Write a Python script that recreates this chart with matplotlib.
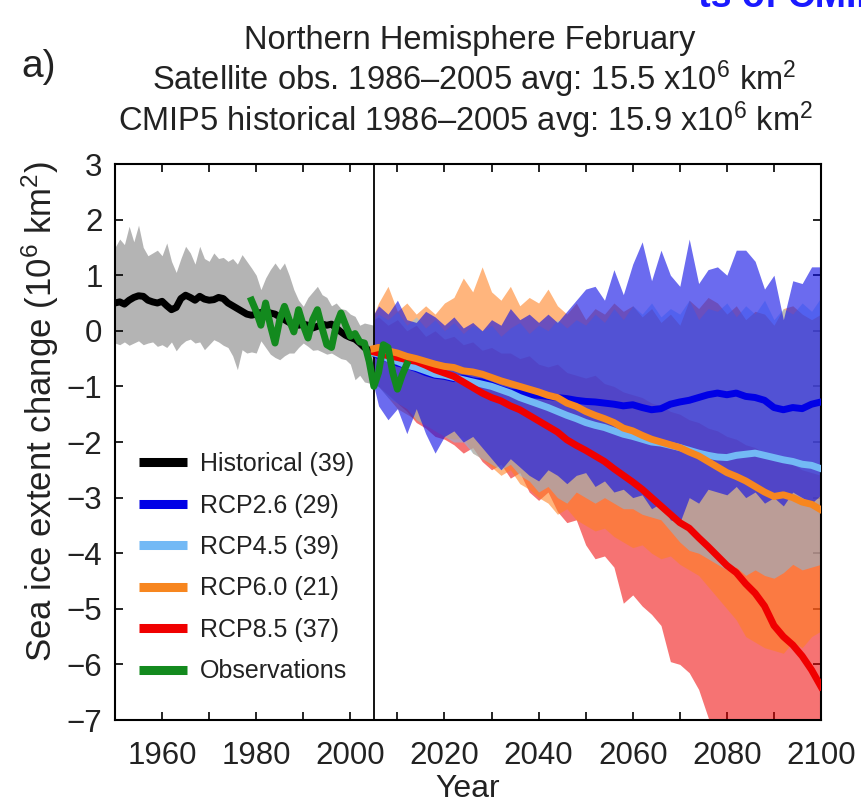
"""
Extensión del hielo marino, Hemisferio Norte, febrero: CMIP5 histórico + RCP y observaciones.
"""
import numpy as np
import matplotlib

matplotlib.use("Agg")
import matplotlib.pyplot as plt
from matplotlib.lines import Line2D
from matplotlib.patches import Rectangle

plt.rcParams["font.family"] = ["Liberation Sans", "DejaVu Sans"]
plt.rcParams["mathtext.fontset"] = "custom"
plt.rcParams["mathtext.rm"] = "Liberation Sans"
plt.rcParams["mathtext.it"] = "Liberation Sans:italic"
plt.rcParams["mathtext.bf"] = "Liberation Sans:bold"

# --- datos (10^6 km^2) ---
HIST_YEARS = np.arange(1950, 2006)
hist_mean = [0.50, 0.52, 0.48, 0.55, 0.60, 0.63, 0.62, 0.55, 0.52, 0.50,
             0.53, 0.45, 0.38, 0.42, 0.58, 0.64, 0.60, 0.55, 0.62, 0.57,
             0.55, 0.56, 0.60, 0.58, 0.50, 0.45, 0.40, 0.35, 0.30, 0.28,
             0.30, 0.33, 0.35, 0.32, 0.30, 0.25, 0.20, 0.15, 0.12, 0.10,
             0.12, 0.10, 0.05, 0.08, 0.12, 0.10, 0.12, 0.05, -0.02, -0.08,
             -0.12, -0.15, -0.22, -0.30, -0.35, -0.40]
hist_upper = [1.50, 1.65, 1.55, 1.88, 1.60, 1.90, 1.50, 1.35, 1.40, 1.45,
              1.35, 1.58, 1.25, 1.05, 1.30, 1.52, 1.40, 1.20, 1.52, 1.30,
              1.25, 1.40, 1.30, 1.32, 1.25, 1.30, 1.20, 1.37, 1.25, 1.13,
              1.00, 0.74, 0.95, 1.10, 1.22, 1.10, 1.22, 1.00, 0.74, 0.55,
              0.44, 0.60, 0.70, 0.80, 0.65, 0.60, 0.45, 0.50, 0.40, 0.38,
              0.30, 0.26, 0.10, 0.14, 0.12, 0.10]
hist_lower = [-0.22, -0.25, -0.20, -0.26, -0.22, -0.18, -0.25, -0.22, -0.20, -0.28,
              -0.25, -0.30, -0.20, -0.36, -0.25, -0.18, -0.15, -0.22, -0.20, -0.34,
              -0.25, -0.16, -0.20, -0.26, -0.30, -0.45, -0.70, -0.34, -0.40, -0.38,
              -0.40, -0.18, -0.30, -0.42, -0.48, -0.52, -0.45, -0.40, -0.40, -0.30,
              -0.22, -0.28, -0.35, -0.34, -0.38, -0.42, -0.40, -0.45, -0.50, -0.52,
              -0.60, -0.88, -0.80, -0.92, -0.94, -0.95]

OBS_YEARS = np.arange(1979, 2013)
obs = [0.55, 0.35, 0.10, 0.50, 0.10, -0.22, 0.20, 0.44, 0.20, -0.02,
       0.38, 0.10, -0.13, 0.20, 0.38, 0.05, -0.25, -0.30, 0.10, 0.32,
       0.10, -0.10, -0.05, -0.20, -0.22, -0.55, -1.00, -0.75, -0.25, -0.30,
       -0.75, -1.05, -0.80, -0.60]

PROJ_YEARS = np.r_[2005, np.arange(2006, 2101, 2)]
# 2005 | 2006-2014 | 2016-2024 | ... | 2086-2094 | 2096-2100
rcp26_mean = [-0.40,
              -0.45, -0.50, -0.58, -0.62, -0.68,
              -0.75, -0.80, -0.82, -0.86, -0.85,
              -0.90, -0.92, -0.98, -1.05, -1.10,
              -1.12, -1.15, -1.16, -1.18, -1.20,
              -1.22, -1.25, -1.27, -1.28, -1.30,
              -1.32, -1.35, -1.33, -1.38, -1.42,
              -1.40, -1.32, -1.28, -1.25, -1.20,
              -1.15, -1.12, -1.15, -1.12, -1.18,
              -1.20, -1.25, -1.38, -1.42, -1.38,
              -1.40, -1.32, -1.28]
rcp26_upper = [0.30,
               0.45, 0.30, 0.55, 0.20, 0.15,
               0.35, 0.25, 0.10, 0.25, 0.05,
               0.15, 0.00, 0.20, 0.10, 0.40,
               0.20, 0.30, 0.15, 0.30, 0.15,
               0.35, 0.55, 0.75, 0.80, 0.55,
               1.10, 0.65, 1.20, 1.60, 0.90,
               1.45, 1.00, 0.80, 1.65, 0.85,
               1.10, 1.15, 1.00, 1.45, 1.45,
               1.25, 0.75, 1.00, 0.20, 0.90,
               0.85, 1.15, 1.15]
rcp26_lower = [-1.00,
               -1.35, -1.60, -1.40, -1.85, -1.40,
               -1.85, -2.20, -1.90, -1.80, -2.00,
               -1.90, -2.10, -2.30, -2.50, -2.30,
               -2.45, -2.60, -2.70, -2.50, -2.60,
               -2.75, -2.60, -2.55, -2.80, -2.70,
               -2.90, -2.85, -3.00, -2.95, -3.20,
               -3.10, -3.40, -3.45, -3.00, -3.10,
               -2.85, -2.90, -2.95, -2.80, -3.00,
               -2.90, -3.10, -3.00, -3.15, -2.90,
               -3.00, -3.10, -2.95]

rcp45_mean = [-0.40,
              -0.42, -0.50, -0.55, -0.62, -0.66,
              -0.72, -0.78, -0.80, -0.84, -0.88,
              -0.92, -0.96, -1.00, -1.06, -1.12,
              -1.20, -1.26, -1.32, -1.38, -1.45,
              -1.52, -1.58, -1.65, -1.70, -1.74,
              -1.80, -1.86, -1.90, -1.95, -2.00,
              -2.02, -2.06, -2.10, -2.15, -2.20,
              -2.24, -2.27, -2.28, -2.24, -2.22,
              -2.20, -2.24, -2.28, -2.32, -2.35,
              -2.40, -2.42, -2.48]
rcp45_upper = [0.20,
               0.30, 0.20, 0.35, 0.10, 0.25,
               0.05, 0.20, 0.00, 0.15, -0.05,
               0.10, 0.00, 0.10, -0.10, 0.05,
               0.15, -0.05, 0.10, 0.00, 0.20,
               0.05, 0.20, 0.10, 0.30, 0.15,
               0.40, 0.20, 0.45, 0.30, 0.50,
               0.25, 0.40, 0.30, 0.55, 0.20,
               0.40, 0.35, 0.50, 0.25, 0.45,
               0.30, 0.55, 0.20, 0.40, 0.30,
               0.50, 0.35, 0.60]
rcp45_lower = [-1.00,
               -1.00, -1.20, -1.30, -1.40, -1.60,
               -1.70, -1.80, -1.90, -2.00, -2.00,
               -2.20, -2.30, -2.40, -2.50, -2.40,
               -2.60, -2.70, -2.90, -2.80, -3.00,
               -3.10, -2.90, -3.00, -3.10, -3.00,
               -3.10, -3.20, -3.20, -3.30, -3.35,
               -3.40, -3.60, -3.80, -3.95, -4.00,
               -4.10, -4.20, -4.30, -4.25, -4.40,
               -4.30, -4.40, -4.45, -4.35, -4.20,
               -4.30, -4.25, -4.20]

rcp60_mean = [-0.32,
              -0.30, -0.36, -0.40, -0.46, -0.50,
              -0.55, -0.60, -0.64, -0.66, -0.72,
              -0.74, -0.78, -0.84, -0.90, -0.95,
              -1.00, -1.05, -1.10, -1.16, -1.20,
              -1.30, -1.36, -1.45, -1.52, -1.58,
              -1.65, -1.75, -1.80, -1.88, -1.95,
              -2.00, -2.05, -2.10, -2.18, -2.25,
              -2.35, -2.45, -2.55, -2.62, -2.70,
              -2.80, -2.90, -2.98, -2.95, -3.00,
              -3.08, -3.12, -3.22]
rcp60_upper = [0.30,
               0.50, 0.80, 0.35, 0.50, 0.30,
               0.45, 0.30, 0.50, 0.60, 0.95,
               0.70, 1.15, 0.70, 0.55, 0.80,
               0.45, 0.60, 0.50, 0.75, 0.45,
               0.30, 0.50, 0.20, 0.40, 0.30,
               0.50, 0.35, 0.45, 0.25, 0.40,
               0.15, 0.30, 0.10, 0.55, 0.40,
               0.60, 0.50, 0.30, 0.45, 0.20,
               0.35, 0.30, 0.10, 0.40, 0.45,
               0.30, 0.20, 0.30]
rcp60_lower = [-0.90,
               -1.00, -1.20, -1.40, -1.50, -1.60,
               -1.70, -1.80, -1.90, -1.95, -1.90,
               -2.20, -2.30, -2.45, -2.60, -2.50,
               -2.75, -2.85, -3.00, -3.10, -3.30,
               -3.20, -3.40, -3.50, -3.60, -3.55,
               -3.70, -3.80, -3.90, -3.85, -4.00,
               -4.10, -4.05, -4.20, -4.30, -4.40,
               -4.60, -4.80, -5.00, -5.20, -5.50,
               -5.60, -5.70, -5.75, -5.80, -5.60,
               -5.70, -5.50, -5.40]

rcp85_mean = [-0.38,
              -0.40, -0.45, -0.48, -0.52, -0.55,
              -0.62, -0.70, -0.76, -0.82, -0.92,
              -1.02, -1.12, -1.20, -1.26, -1.35,
              -1.42, -1.52, -1.62, -1.72, -1.82,
              -1.96, -2.06, -2.15, -2.25, -2.35,
              -2.48, -2.60, -2.72, -2.85, -3.00,
              -3.15, -3.30, -3.45, -3.55, -3.72,
              -3.88, -4.05, -4.22, -4.35, -4.55,
              -4.72, -4.95, -5.30, -5.50, -5.65,
              -5.85, -6.10, -6.40]
rcp85_upper = [0.20,
               0.25, 0.10, 0.20, 0.00, 0.10,
               -0.10, 0.00, -0.15, -0.10, -0.25,
               -0.20, -0.35, -0.30, -0.40, -0.40,
               -0.50, -0.45, -0.60, -0.65, -0.60,
               -0.75, -0.80, -0.85, -0.80, -0.95,
               -1.00, -1.10, -1.15, -1.20, -1.30,
               -1.35, -1.45, -1.50, -1.60, -1.65,
               -1.75, -1.80, -1.90, -1.95, -2.05,
               -2.10, -2.20, -2.25, -2.35, -2.40,
               -2.50, -2.55, -2.60]
rcp85_lower = [-0.95,
               -1.00, -1.15, -1.30, -1.45, -1.65,
               -1.75, -1.90, -1.95, -2.05, -2.20,
               -2.10, -2.35, -2.50, -2.40, -2.65,
               -2.55, -2.90, -3.05, -2.90, -3.25,
               -3.45, -3.40, -3.85, -4.10, -4.05,
               -4.25, -4.90, -4.75, -4.95, -5.10,
               -5.30, -5.95, -6.00, -6.15, -6.45,
               -6.95, -7.50, -7.60, -7.70, -7.80,
               -7.80, -7.90, -8.00, -8.00, -8.10,
               -8.10, -8.20, -8.20]

LABELS = ["Historical (39)", "RCP2.6 (29)", "RCP4.5 (39)",
          "RCP6.0 (21)", "RCP8.5 (37)", "Observations"]

# colores
C_HIST = "black"
C_HIST_BAND = "#b4b4b4"
C26, C45, C60, C85, C_OBS = "#0000e6", "#73b9f5", "#f7861f", "#f00000", "#138a1e"
TXT = "#222222"

W, H = 861, 809
fig = plt.figure(figsize=(W / 100, H / 100), dpi=100)
ax = fig.add_axes([115 / W, 1 - 720 / H, (821 - 115) / W, (720 - 164) / H])

# bandas (rango de modelos)
ax.fill_between(HIST_YEARS, hist_lower, hist_upper, color=C_HIST_BAND, lw=0, zorder=1)
ax.fill_between(PROJ_YEARS, rcp85_lower, rcp85_upper, color="#f00000", alpha=0.55, lw=0, zorder=2)
ax.fill_between(PROJ_YEARS, rcp60_lower, rcp60_upper, color="#ff8020", alpha=0.58, lw=0, zorder=2)
ax.fill_between(PROJ_YEARS, rcp45_lower, rcp45_upper, color="#6ec8ff", alpha=0.45, lw=0, zorder=2)
ax.fill_between(PROJ_YEARS, rcp26_lower, rcp26_upper, color="#1010e6", alpha=0.62, lw=0, zorder=2)

ax.axvline(2005, color="black", lw=1.3, zorder=3)

# medias
lw = 5
ax.plot(HIST_YEARS, hist_mean, color=C_HIST, lw=lw, zorder=4)
ax.plot(PROJ_YEARS, rcp26_mean, color=C26, lw=lw, zorder=4)
ax.plot(PROJ_YEARS, rcp45_mean, color=C45, lw=lw, zorder=4)
ax.plot(PROJ_YEARS, rcp85_mean, color=C85, lw=lw, zorder=4)
ax.plot(PROJ_YEARS, rcp60_mean, color=C60, lw=lw, zorder=4)
ax.plot(OBS_YEARS, obs, color=C_OBS, lw=lw, zorder=5)

ax.set_xlim(1950, 2100)
ax.set_ylim(-7, 3)
ax.set_xticks(np.arange(1960, 2101, 20))
ax.set_xticks(np.arange(1960, 2100, 10), minor=True)
ax.set_yticks(np.arange(-7, 4, 1))
ax.tick_params(which="both", direction="in", top=True, right=True,
               length=6, width=1.2, labelsize=22.5, labelcolor=TXT)
ax.tick_params(axis="x", which="major", pad=15)
ax.tick_params(axis="y", which="major", pad=9)
for sp in ax.spines.values():
    sp.set_linewidth(1.5)

ax.set_xlabel("Year", fontsize=23, color=TXT)
ax.xaxis.set_label_coords(0.5, -0.098)
ax.set_ylabel("Sea ice extent change (10$^6$ km$^2$)", fontsize=25, color=TXT)
ax.yaxis.set_label_coords(-0.076, 0.554)

handles = [Line2D([], [], color=c, lw=6.5, solid_capstyle="butt")
           for c in (C_HIST, C26, C45, C60, C85, C_OBS)]
ax.legend(handles, LABELS, loc="upper left", bbox_to_anchor=(139 / W, 1 - 452 / H),
          bbox_transform=fig.transFigure, frameon=False, fontsize=18,
          handlelength=1.92, handletextpad=0.52, labelspacing=0.7,
          borderpad=0, borderaxespad=0, labelcolor=TXT)

# títulos
fig.text(470 / W, 1 - 49 / H, "Northern Hemisphere February", ha="center", va="baseline",
         fontsize=23.5, color=TXT)
fig.text(474 / W, 1 - 90 / H, "Satellite obs. 1986–2005 avg: 15.5 x10$^6$ km$^2$",
         ha="center", va="baseline", fontsize=23.5, color=TXT)
fig.text(466 / W, 1 - 131 / H, "CMIP5 historical 1986–2005 avg: 15.9 x10$^6$ km$^2$",
         ha="center", va="baseline", fontsize=23.5, color=TXT)
fig.text(21 / W, 1 - 77 / H, "a)", ha="left", va="baseline", fontsize=28, color=TXT)

# rótulo de la diapositiva, tapado en parte por la figura
fig.text(596 / W, 1 - 7 / H, "Results of CMIP5", ha="left", va="baseline",
         fontsize=27, fontweight="bold", color="#1a1aff", zorder=1)
fig.patches.append(Rectangle((0, 1 - 20 / H), 700 / W, 20 / H, transform=fig.transFigure,
                             facecolor="white", edgecolor="none", zorder=2))

fig.savefig("out.png", dpi=100)
